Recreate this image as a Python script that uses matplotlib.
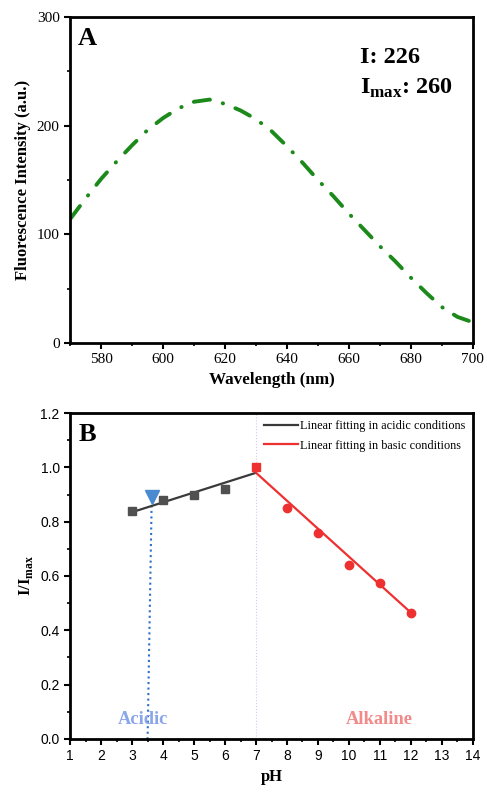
import numpy as np
import matplotlib
matplotlib.use('Agg')
from matplotlib import pyplot as plt
from matplotlib.ticker import MultipleLocator

plt.rcParams['font.family'] = 'Liberation Serif'
plt.rcParams['mathtext.fontset'] = 'custom'
plt.rcParams['mathtext.rm'] = 'Liberation Serif'
plt.rcParams['mathtext.bf'] = 'Liberation Serif:bold'

# panel A: emission spectrum
wavelength = [570, 575, 580, 585, 590, 595, 600, 605, 610, 615, 620, 625, 630, 635,
              640, 645, 650, 655, 660, 665, 670, 675, 680, 685, 690, 695, 700]
intensity = [114, 133, 151, 167, 182, 196, 207, 216, 222, 224, 220, 214, 206, 195,
             181, 166, 150, 135, 119, 104, 89, 75, 60, 46, 33, 24, 19]

# panel B: I/Imax vs pH
ph_acid = [3, 4, 5, 6]
ratio_acid = [0.84, 0.88, 0.90, 0.92]
ph_neutral = [7]
ratio_neutral = [1.0]
ph_base = [8, 9, 10, 11, 12]
ratio_base = [0.85, 0.76, 0.64, 0.575, 0.465]
fit_acid_x = [3, 7]
fit_acid_y = [0.835, 0.98]
fit_base_x = [7, 12]
fit_base_y = [0.98, 0.465]
sample_ph = 3.65
sample_ratio = 0.89
guide_x = [3.63, 3.5]
guide_y = [0.86, 0.0]

fig = plt.figure(figsize=(4.87, 7.92), dpi=100)

def style(ax):
    for s in ax.spines.values():
        s.set_linewidth(2)
    ax.tick_params(which='major', direction='out', width=1.5, length=4)
    ax.tick_params(which='minor', direction='out', width=1.2, length=2.5)

# ---- A ----
axA = fig.add_axes([0.144, 0.567, 0.827, 0.4115])
axA.plot(wavelength, intensity, color='#1b8a1b', lw=2.8, ls=(0, (4.2, 3.4, 0.1, 3.4)),
         dash_capstyle='round')
axA.set_xlim(570, 700)
axA.set_ylim(0, 300)
axA.xaxis.set_major_locator(MultipleLocator(20))
axA.xaxis.set_minor_locator(MultipleLocator(10))
axA.yaxis.set_major_locator(MultipleLocator(100))
axA.yaxis.set_minor_locator(MultipleLocator(50))
style(axA)
axA.tick_params(labelsize=11)
axA.set_xlabel('Wavelength (nm)', fontsize=12.3, fontweight='bold')
axA.set_ylabel('Fluorescence Intensity (a.u.)', fontsize=12, fontweight='bold')
axA.text(0.02, 0.97, 'A', transform=axA.transAxes, fontsize=19, fontweight='bold', va='top')
axA.text(0.72, 0.877, 'I: 226', transform=axA.transAxes, fontsize=17.5, fontweight='bold', va='center')
axA.text(0.72, 0.782, r'I$_{\mathbf{max}}$: 260', transform=axA.transAxes, fontsize=17.5,
         fontweight='bold', va='center')

# ---- B ----
axB = fig.add_axes([0.144, 0.067, 0.827, 0.4115])
axB.axvline(7, color='#d8c8f0', lw=0.8, ls=':')
axB.plot(guide_x, guide_y, color='#2f6fc8', lw=1.5, ls=':')
axB.plot(fit_acid_x, fit_acid_y, color='#3a3a3a', lw=1.6,
         label='Linear fitting in acidic conditions')
axB.plot(fit_base_x, fit_base_y, color='#ee3030', lw=1.6,
         label='Linear fitting in basic conditions')
axB.plot(ph_acid, ratio_acid, 's', color='#505050', ms=5.5)
axB.plot(ph_neutral, ratio_neutral, 's', color='#ee3030', ms=5.5)
axB.plot(ph_base, ratio_base, 'o', color='#ee3030', ms=6)
axB.plot([sample_ph], [sample_ratio], 'v', color='#4a8ad0', ms=10)
axB.set_xlim(1, 14)
axB.set_ylim(0, 1.2)
axB.xaxis.set_major_locator(MultipleLocator(1))
axB.xaxis.set_minor_locator(MultipleLocator(0.5))
axB.yaxis.set_major_locator(MultipleLocator(0.2))
axB.yaxis.set_minor_locator(MultipleLocator(0.1))
style(axB)
axB.tick_params(labelsize=10)
for lab in axB.get_xticklabels() + axB.get_yticklabels():
    lab.set_family('Liberation Sans')
axB.yaxis.set_major_formatter(matplotlib.ticker.FormatStrFormatter('%.1f'))
axB.set_xlabel('pH', fontsize=12, fontweight='bold')
axB.set_ylabel(r'I/I$_{\mathbf{max}}$', fontsize=12, fontweight='bold')
axB.text(0.02, 0.97, 'B', transform=axB.transAxes, fontsize=19, fontweight='bold', va='top')
axB.text(3.35, 0.07, 'Acidic', color='#8aa6ea', fontsize=13.3, fontweight='bold', ha='center', va='center')
axB.text(10.97, 0.07, 'Alkaline', color='#f28a8a', fontsize=13.3, fontweight='bold', ha='center', va='center')
axB.legend(loc='upper right', frameon=False, fontsize=8.8, handlelength=2.8,
           handletextpad=0.2, borderaxespad=0.2, labelspacing=0.6)

fig.savefig('out.png', dpi=100)
